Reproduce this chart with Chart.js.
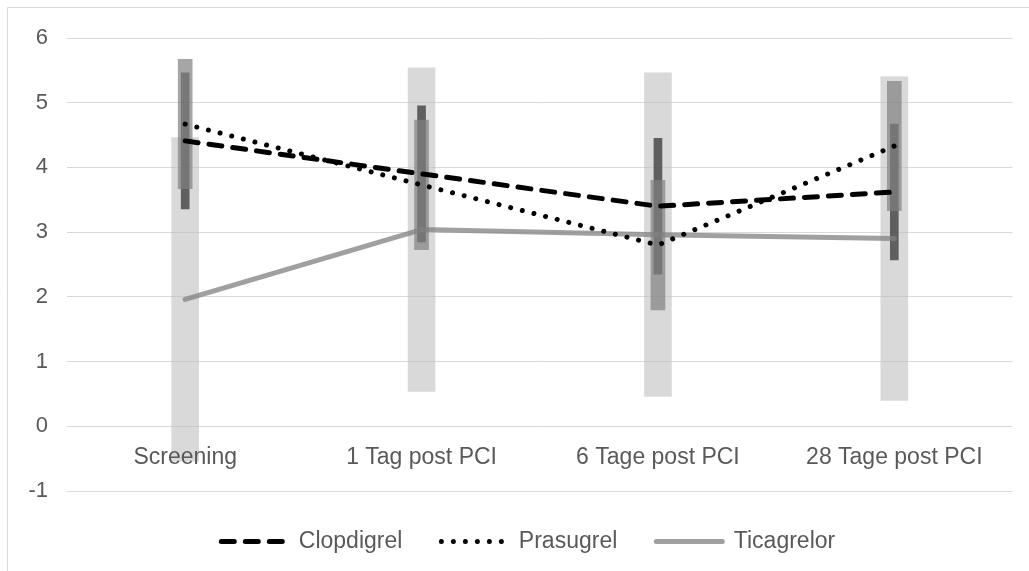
<!DOCTYPE html>
<html>
<head>
<meta charset="utf-8">
<script src="https://cdn.jsdelivr.net/npm/chart.js@4/dist/chart.umd.min.js"></script>
<style>
  html, body { margin: 0; padding: 0; background: #ffffff; }
  #wrap { position: relative; width: 1029px; height: 571px; }
</style>
</head>
<body>
<div id="wrap"><canvas id="chart" width="1029" height="571"></canvas></div>
<script>
// Zeitpunkte
const categories = ['Screening', '1 Tag post PCI', '6 Tage post PCI', '28 Tage post PCI'];

// Mittelwerte je Gruppe
const clopidogrelMean = [4.41, 3.90, 3.40, 3.62];
const prasugrelMean   = [4.67, 3.73, 2.80, 4.33];
const ticagrelorMean  = [1.96, 3.04, 2.96, 2.90];

// Standardabweichungen je Gruppe
const clopidogrelSd = [1.05, 1.05, 1.05, 1.05];
const prasugrelSd   = [1.00, 1.00, 1.00, 1.00];
const ticagrelorSd  = [2.50, 2.50, 2.50, 2.50];

// Y-Achse
const yTicks = [-1, 0, 1, 2, 3, 4, 5, 6];

const range = (mean, sd) => mean.map((m, i) => [m - sd[i], m + sd[i]]);

const FONT = "'Liberation Sans', Arial, sans-serif";
const TEXT = '#595959';
const GRID = '#d9d9d9';

// white background plus the thin frame on the left and top edge
const frame = {
  id: 'frame',
  beforeDraw(chart) {
    const ctx = chart.ctx;
    ctx.save();
    ctx.fillStyle = '#ffffff';
    ctx.fillRect(0, 0, chart.width, chart.height);
    ctx.strokeStyle = GRID;
    ctx.lineWidth = 1;
    ctx.beginPath();
    ctx.moveTo(7.5, chart.height);
    ctx.lineTo(7.5, 7.5);
    ctx.lineTo(chart.width, 7.5);
    ctx.stroke();
    ctx.restore();
  }
};

// centre the legend row a bit to the right of the canvas middle
const legendShift = {
  id: 'legendShift',
  afterLayout(chart) {
    const lg = chart.legend;
    if (!lg) return;
    lg.left += 22;
    lg.right += 22;
  }
};

new Chart(document.getElementById('chart'), {
  type: 'bar',
  data: {
    labels: categories,
    datasets: [
      {
        type: 'line', label: 'Clopdigrel', data: clopidogrelMean, order: 0,
        borderColor: '#000000', borderWidth: 5, borderDash: [13, 11],
        borderCapStyle: 'round', borderJoinStyle: 'round',
        pointRadius: 0, tension: 0, fill: false
      },
      {
        type: 'line', label: 'Prasugrel', data: prasugrelMean, order: 0,
        borderColor: '#000000', borderWidth: 5, borderDash: [0.01, 11.99],
        borderCapStyle: 'round', borderJoinStyle: 'round',
        pointRadius: 0, tension: 0, fill: false
      },
      {
        type: 'line', label: 'Ticagrelor', data: ticagrelorMean, order: 0,
        borderColor: 'rgba(128,128,128,0.75)', borderWidth: 5,
        borderCapStyle: 'round', borderJoinStyle: 'round',
        pointRadius: 0, tension: 0, fill: false
      },
      {
        label: 'Prasugrel SD', data: range(prasugrelMean, prasugrelSd), order: 1,
        backgroundColor: 'rgba(128,128,128,0.7)', borderWidth: 0,
        barThickness: 14, grouped: false
      },
      {
        label: 'Clopdigrel SD', data: range(clopidogrelMean, clopidogrelSd), order: 2,
        backgroundColor: 'rgba(64,64,64,0.8)', borderWidth: 0,
        barThickness: 8, grouped: false
      },
      {
        label: 'Ticagrelor SD', data: range(ticagrelorMean, ticagrelorSd), order: 3,
        backgroundColor: 'rgba(191,191,191,0.6)', borderWidth: 0,
        barThickness: 27, grouped: false
      }
    ]
  },
  options: {
    responsive: false,
    animation: false,
    layout: { padding: { left: 0, right: 16.5, top: 38, bottom: 8 } },
    scales: {
      x: {
        type: 'category',
        position: { y: 0 },
        offset: true,
        grid: { display: false },
        border: { display: false },
        ticks: {
          z: 1, color: TEXT, font: { family: FONT, size: 23 },
          padding: 10, autoSkip: false, maxRotation: 0
        }
      },
      y: {
        min: yTicks[0], max: yTicks[yTicks.length - 1],
        afterFit(scale) { scale.width = 67; },
        afterBuildTicks(scale) { scale.ticks = yTicks.map(v => ({ value: v })); },
        grid: { color: GRID, lineWidth: 1, drawTicks: false },
        border: { display: false },
        ticks: { color: TEXT, font: { family: FONT, size: 22 }, padding: 19 }
      }
    },
    plugins: {
      legend: {
        position: 'bottom',
        labels: {
          filter: item => item.datasetIndex < 3,
          usePointStyle: true, pointStyle: 'line', pointStyleWidth: 66,
          color: TEXT, font: { family: FONT, size: 23 }, padding: 39,
          generateLabels(chart) {
            const items = Chart.defaults.plugins.legend.labels.generateLabels(chart);
            return items.map(item => {
              const ds = chart.data.datasets[item.datasetIndex];
              item.lineDash = ds.borderDash || [];
              item.lineCap = ds.borderCapStyle || 'butt';
              item.lineWidth = ds.borderWidth;
              item.strokeStyle = ds.borderColor;
              item.pointStyle = 'line';
              return item;
            });
          }
        }
      },
      tooltip: { enabled: false }
    }
  },
  plugins: [frame, legendShift]
});
</script>
</body>
</html>
